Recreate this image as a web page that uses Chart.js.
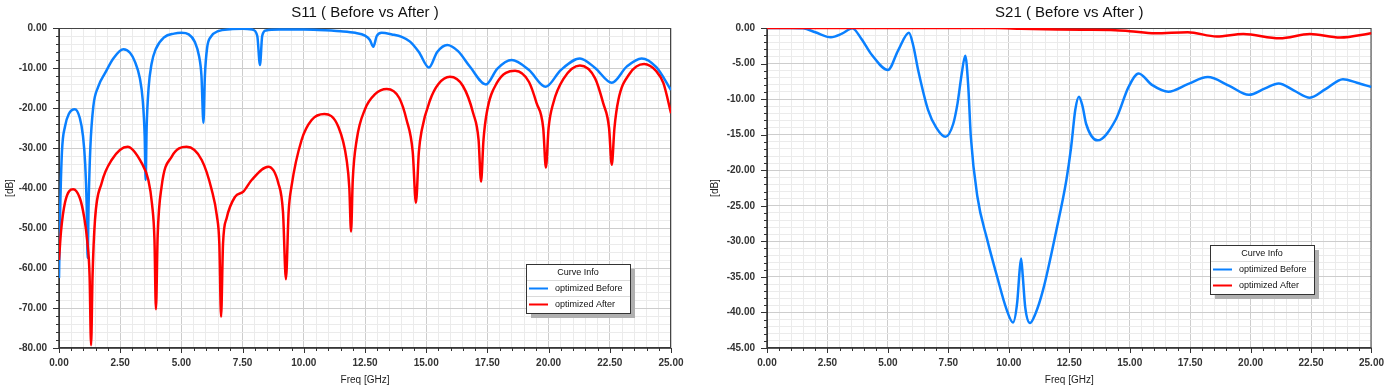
<!DOCTYPE html>
<html>
<head>
<meta charset="utf-8">
<script src="https://cdn.jsdelivr.net/npm/chart.js@4.4.1/dist/chart.umd.min.js"></script>
<style>
body{margin:0;background:#fff;}
#wrap{position:relative;width:1393px;height:389px;background:#fff;}
canvas{position:absolute;top:0;}
</style>
</head>
<body>
<div id="wrap">
<canvas id="s11" width="696" height="389" style="left:0"></canvas>
<canvas id="s21" width="697" height="389" style="left:696px"></canvas>
</div>
<script>
// S11 before (blue)
const s11BeforeFreq = [0,0.05,0.12,0.25,0.4,0.65,0.85,0.98,1.07,1.13,1.17,1.21,1.28,1.4,1.6,1.88,2.22,2.63,2.9,3.1,3.3,3.42,3.5,3.54,3.58,3.66,3.78,3.95,4.3,4.7,5.0,5.3,5.55,5.72,5.82,5.9,5.96,6.05,6.2,6.5,7.0,7.5,7.9,8.1,8.21,8.3,8.45,9.0,10.0,10.6,11.5,12.1,12.5,12.7,12.84,12.98,13.18,13.6,14.0,14.34,14.7,15.11,15.45,15.86,16.3,16.79,17.44,17.9,18.49,19.2,19.88,20.5,21.28,21.9,22.58,23.2,23.8,24.4,25.0];
const s11Before = [-62.5,-45,-31,-24.5,-21.5,-20.3,-22.5,-27,-34,-44,-57.5,-44,-30,-19.7,-14.7,-11.3,-7.6,-5.3,-6.2,-8.4,-12.5,-18,-27,-38,-25,-15,-9,-5.3,-2.3,-1.4,-1.2,-1.6,-3.5,-7,-12,-23.7,-12,-5,-2.2,-0.8,-0.3,-0.2,-0.4,-2,-9.25,-2,-0.6,-0.4,-0.4,-0.5,-0.8,-1.2,-1.9,-3,-4.7,-2,-1.2,-1.6,-2.2,-3.4,-6,-9.9,-6,-4.25,-5.8,-9.7,-14.1,-10.2,-8,-10.5,-14.7,-10.5,-7.6,-10,-13.7,-9.6,-7.6,-9.8,-15.5];

// S11 after (red)
const s11AfterFreq = [0,0.08,0.25,0.58,0.85,1.02,1.15,1.25,1.31,1.37,1.47,1.74,2.15,2.8,3.38,3.65,3.8,3.9,3.96,4.03,4.19,4.6,5.21,5.83,6.24,6.45,6.55,6.62,6.7,6.85,7.19,7.53,7.87,8.55,8.96,9.15,9.27,9.38,9.5,9.91,10.32,10.84,11.41,11.75,11.86,11.93,12.0,12.16,12.5,12.9,13.39,13.9,14.2,14.45,14.58,14.7,14.82,15.16,15.5,15.97,16.5,16.92,17.14,17.24,17.34,17.47,17.88,18.63,19.2,19.51,19.78,19.89,20.0,20.19,20.6,21.28,21.9,22.23,22.47,22.58,22.69,22.85,23.3,23.9,24.4,24.69,25.0];
const s11After = [-58,-51,-43.5,-40.3,-42.5,-47,-53,-62,-79.3,-62,-48,-38.8,-33,-29.7,-33.8,-38,-44,-53,-70.3,-52,-39.7,-32.2,-29.7,-33,-40.5,-47,-54,-72.2,-54,-47.5,-42.2,-40.9,-38,-34.7,-38.8,-46,-62.8,-46,-39.5,-28,-23,-21.5,-24.7,-33,-40,-50.9,-38,-28,-20.3,-16.6,-15.25,-17.5,-23,-31,-43.7,-31,-25.5,-18,-14,-12.2,-14.5,-21.3,-28,-38.4,-28,-21.3,-13.8,-10.7,-13.5,-18.8,-25,-34.9,-25,-18.8,-12.8,-9.4,-12.6,-18.8,-25,-34.2,-25,-18,-11.5,-9,-10.8,-13.8,-21.3];

// S21 before (blue)
const s21BeforeFreq = [0,1.0,1.5,2.0,2.64,3.1,3.53,3.9,4.34,5.0,5.43,5.87,6.05,6.25,6.66,7.0,7.38,7.7,7.88,8.05,8.2,8.32,8.43,8.7,9.11,9.52,9.9,10.17,10.35,10.45,10.51,10.58,10.68,10.88,11.1,11.42,11.97,12.38,12.58,12.75,12.9,13.05,13.2,13.67,14.42,14.96,15.37,15.92,16.6,17.4,18.23,19.1,19.93,20.6,21.16,21.8,22.45,23.1,23.82,24.4,25.0];
const s21Before = [0,0,-0.05,-0.6,-1.3,-0.8,-0.05,-1.5,-3.8,-5.9,-3.1,-0.66,-2.5,-5.9,-11.5,-14,-15.3,-13.5,-10.6,-6.5,-3.9,-8,-15.3,-23.7,-29.8,-35,-39.5,-41.4,-38.5,-34,-32.4,-35,-39.3,-41.5,-40.2,-36.8,-28.4,-21.4,-16.7,-11.5,-9.66,-11,-13.5,-15.8,-12.9,-8.25,-6.4,-8.0,-8.95,-7.9,-6.9,-8.1,-9.4,-8.5,-7.8,-8.8,-9.8,-8.6,-7.2,-7.7,-8.3];

// S21 after (red)
const s21AfterFreq = [0,5,9.5,10.5,12.0,13.0,14.4,15.0,16.05,17.4,18.6,19.7,21.2,22.45,23.7,25.0];
const s21After = [0,0,0,-0.1,-0.2,-0.25,-0.3,-0.45,-0.75,-0.6,-1.2,-0.85,-1.45,-0.85,-1.35,-0.75];

const xTickStep = 0.5;
const xLabelStep = 2.5;

function pts(xs, ys) {
    return xs.map((x, i) => ({x: x, y: ys[i]}));
}
function isMult(v, step) {
    const r = v / step;
    return Math.abs(r - Math.round(r)) < 1e-6;
}

const FONT = '"Liberation Sans", Arial, sans-serif';

const hfssPlugin = {
    id: 'hfss',
    beforeDatasetsDraw(chart, args, o) {
        const ctx = chart.ctx, a = chart.chartArea;
        const x = chart.scales.x, y = chart.scales.y;
        ctx.save();
        ctx.strokeStyle = '#444';
        ctx.lineWidth = 1;
        ctx.strokeRect(a.left + 0.5, a.top + 0.5, a.right - a.left - 1, a.bottom - a.top - 1);
        ctx.strokeStyle = '#333';
        ctx.beginPath();
        x.ticks.forEach(t => {
            const px = Math.round(x.getPixelForValue(t.value)) + 0.5;
            const len = isMult(t.value, xLabelStep) ? 5 : 3;
            ctx.moveTo(px, a.bottom);
            ctx.lineTo(px, a.bottom + len);
        });
        y.ticks.forEach(t => {
            const py = Math.round(y.getPixelForValue(t.value)) + 0.5;
            const len = isMult(t.value, o.yMajor) ? 6 : 3;
            ctx.moveTo(a.left, py);
            ctx.lineTo(a.left - len, py);
        });
        ctx.stroke();
        ctx.lineWidth = 1.5;
        ctx.beginPath();
        ctx.moveTo(a.left, a.top);
        ctx.lineTo(a.left, a.bottom);
        ctx.lineTo(a.right, a.bottom);
        ctx.stroke();
        ctx.restore();
    },
    afterDraw(chart, args, o) {
        const ctx = chart.ctx, a = chart.chartArea;
        const cx = (a.left + a.right) / 2;
        ctx.save();
        ctx.fillStyle = '#111';
        ctx.textAlign = 'center';
        ctx.textBaseline = 'alphabetic';
        ctx.font = '15px ' + FONT;
        ctx.fillText(o.title, cx, 17);
        ctx.font = '10px ' + FONT;
        ctx.fillStyle = '#222';
        ctx.textBaseline = 'middle';
        ctx.fillText('Freq [GHz]', cx, 380);
        ctx.save();
        ctx.translate(o.yTitleX, (a.top + a.bottom) / 2);
        ctx.rotate(-Math.PI / 2);
        ctx.fillText('[dB]', 0, 0);
        ctx.restore();

        // Curve Info box
        const lx = o.legendX, ly = o.legendY, w = 104, h = 49;
        ctx.fillStyle = '#b0b0b0';
        ctx.fillRect(lx + 5, ly + 5, w, h);
        ctx.fillStyle = '#fff';
        ctx.fillRect(lx, ly, w, h);
        ctx.strokeStyle = '#dadada';
        ctx.lineWidth = 1;
        ctx.beginPath();
        ctx.moveTo(lx, ly + 16.5); ctx.lineTo(lx + w, ly + 16.5);
        ctx.moveTo(lx, ly + 32.5); ctx.lineTo(lx + w, ly + 32.5);
        ctx.stroke();
        ctx.strokeStyle = '#333';
        ctx.strokeRect(lx + 0.5, ly + 0.5, w, h);
        ctx.font = '9px ' + FONT;
        ctx.fillStyle = '#111';
        ctx.textAlign = 'center';
        ctx.fillText('Curve Info', lx + w / 2, ly + 9);
        ctx.textAlign = 'left';
        const rows = chart.data.datasets.slice().sort((p, q) => q.order - p.order);
        rows.forEach((d, i) => {
            const ry = ly + 24.5 + i * 16;
            ctx.strokeStyle = d.borderColor;
            ctx.lineWidth = 2;
            ctx.beginPath();
            ctx.moveTo(lx + 3, ry); ctx.lineTo(lx + 22, ry);
            ctx.stroke();
            ctx.fillText(d.label, lx + 29, ry);
        });
        ctx.restore();
    }
};

function makeChart(id, c) {
    return new Chart(document.getElementById(id), {
        type: 'line',
        data: {
            datasets: [
                {label: 'optimized Before', data: pts(c.beforeX, c.beforeY), borderColor: '#0a80ff', order: 1},
                {label: 'optimized After', data: pts(c.afterX, c.afterY), borderColor: '#ff0000', order: 0}
            ]
        },
        options: {
            responsive: false,
            animation: false,
            parsing: true,
            layout: {padding: {left: 0, top: 28, right: c.padRight, bottom: 0}},
            elements: {
                point: {radius: 0},
                line: {borderWidth: 2.5, cubicInterpolationMode: 'monotone', fill: false}
            },
            plugins: {
                legend: {display: false},
                tooltip: {enabled: false},
                title: {display: false},
                hfss: {title: c.title, yMajor: c.yMajor, yTitleX: c.yTitleX, legendX: c.legendX, legendY: c.legendY}
            },
            scales: {
                x: {
                    type: 'linear', min: 0, max: 25,
                    afterFit: s => { s.height = 41; },
                    grid: {
                        drawTicks: false,
                        color: t => isMult(t.tick.value, xLabelStep) ? '#cdcdcd' : '#ebebeb'
                    },
                    border: {display: false},
                    ticks: {
                        stepSize: xTickStep, autoSkip: false, maxRotation: 0, padding: 9,
                        color: '#333', font: {family: FONT, size: 10, weight: 'bold'},
                        callback: v => isMult(v, xLabelStep) ? v.toFixed(2) : ''
                    }
                },
                y: {
                    min: c.yMin, max: 0,
                    afterFit: s => { s.width = c.yWidth; },
                    grid: {
                        drawTicks: false,
                        color: t => isMult(t.tick.value, c.yMajor) ? '#cdcdcd' : '#ebebeb'
                    },
                    border: {display: false},
                    ticks: {
                        stepSize: c.yStep, autoSkip: false, padding: 12,
                        color: '#333', font: {family: FONT, size: 10, weight: 'bold'},
                        callback: v => isMult(v, c.yMajor) ? (v === 0 ? '0.00' : v.toFixed(2)) : ''
                    }
                }
            }
        },
        plugins: [hfssPlugin]
    });
}

makeChart('s11', {
    title: 'S11 ( Before vs After )',
    beforeX: s11BeforeFreq, beforeY: s11Before,
    afterX: s11AfterFreq, afterY: s11After,
    yMin: -80, yStep: 2, yMajor: 10, yWidth: 59, padRight: 25,
    yTitleX: 10, legendX: 526, legendY: 264
});
makeChart('s21', {
    title: 'S21 ( Before vs After )',
    beforeX: s21BeforeFreq, beforeY: s21Before,
    afterX: s21AfterFreq, afterY: s21After,
    yMin: -45, yStep: 1, yMajor: 5, yWidth: 71, padRight: 14,
    yTitleX: 19, legendX: 514, legendY: 245
});
</script>
</body>
</html>
